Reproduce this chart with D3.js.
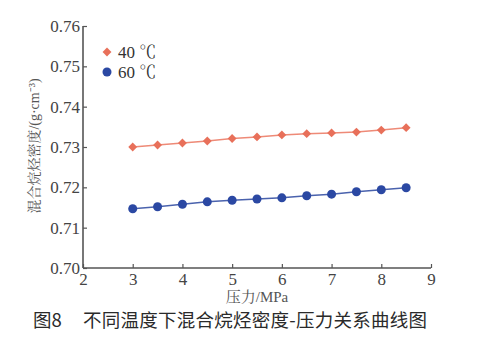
<!DOCTYPE html>
<html><head><meta charset="utf-8">
<script src="https://cdn.jsdelivr.net/npm/d3@7"></script>
<style>body{margin:0;background:#fff}svg{display:block}</style>
</head><body>
<svg id="c" width="484" height="358"></svg>
<script>
const pressure = [3, 3.5, 4, 4.5, 5, 5.5, 6, 6.5, 7, 7.5, 8, 8.5];
const density40 = [0.7300, 0.7305, 0.7310, 0.7315, 0.7321, 0.7325, 0.7330, 0.7333, 0.7335, 0.7337, 0.7342, 0.7348];
const density60 = [0.7147, 0.7152, 0.7158, 0.7164, 0.7168, 0.7171, 0.7174, 0.7179, 0.7183, 0.7189, 0.7194, 0.7199];
const xTicks = [2, 3, 4, 5, 6, 7, 8, 9];
const yTicks = [0.70, 0.71, 0.72, 0.73, 0.74, 0.75, 0.76];
const seriesNames = ["40 ℃", "60 ℃"];
const xLabel = "压力/MPa";
const yLabel = "混合烷烃密度/(g·cm⁻³)";
const captionNo = "图8";
const captionText = "不同温度下混合烷烃密度-压力关系曲线图";

const SERIF = "'Liberation Serif','Noto Serif CJK SC'";
const svg = d3.select("#c");
const L = 83, R = 431, T = 26, B = 268;
const x = d3.scaleLinear().domain([2, 9]).range([L, R]);
const y = d3.scaleLinear().domain([0.70, 0.76]).range([B, T]);
const axisColor = "#555";

const ya = svg.append("g").attr("transform", `translate(${L},0)`)
  .call(d3.axisLeft(y).tickValues(yTicks).tickFormat(d3.format(".2f")).tickSizeInner(-4).tickSizeOuter(0).tickPadding(3));
const xa = svg.append("g").attr("transform", `translate(0,${B})`)
  .call(d3.axisBottom(x).tickValues(xTicks).tickFormat(d3.format("d")).tickSizeInner(-4).tickSizeOuter(0).tickPadding(5));
[ya, xa].forEach(g => {
  g.attr("font-family", SERIF).attr("font-size", 17);
  g.select(".domain").attr("stroke", axisColor).attr("stroke-width", 1.6);
  g.selectAll(".tick line").attr("stroke", axisColor).attr("stroke-width", 1.2);
  g.selectAll("text").attr("fill", "#444").attr("font-family", SERIF);
});
xa.select(".domain").attr("d", `M${L},0H${R}`);
ya.select(".domain").attr("d", `M0,${B}V${T}`);

const c40 = "#e8705a", c60 = "#2b48a3";
const line = d3.line().x((d, i) => x(pressure[i])).y(d => y(d));

svg.append("path").datum(density40).attr("d", line).attr("fill", "none").attr("stroke", "#ee8a77").attr("stroke-width", 1.5);
svg.append("path").datum(density60).attr("d", line).attr("fill", "none").attr("stroke", "#4a62ad").attr("stroke-width", 1.5);

const diamond = d3.symbol().type(d3.symbolDiamond2).size(50);
svg.append("g").selectAll("path").data(density40).join("path")
  .attr("d", diamond)
  .attr("transform", (d, i) => `translate(${x(pressure[i])},${y(d)})`)
  .attr("fill", c40);
svg.append("g").selectAll("circle").data(density60).join("circle")
  .attr("cx", (d, i) => x(pressure[i])).attr("cy", d => y(d)).attr("r", 4.5)
  .attr("fill", c60);

const lg = svg.append("g");
lg.append("path").attr("d", diamond).attr("transform", "translate(107,52)").attr("fill", c40);
lg.append("circle").attr("cx", 107).attr("cy", 72).attr("r", 4.5).attr("fill", c60);
lg.selectAll("text").data(seriesNames).join("text")
  .attr("x", 118).attr("y", (d, i) => 58 + i * 20)
  .attr("fill", "#333").attr("font-family", SERIF).attr("font-size", 17)
  .text(d => d);

svg.append("text").attr("x", 257).attr("y", 302).attr("text-anchor", "middle")
  .attr("fill", "#555").attr("font-family", SERIF).attr("font-size", 15)
  .text(xLabel);
svg.append("text").attr("transform", "translate(39,146) rotate(-90)").attr("text-anchor", "middle")
  .attr("fill", "#555").attr("font-family", SERIF).attr("font-size", 14)
  .text(yLabel);

const cap = svg.append("g").attr("fill", "#2a2a2a").attr("font-family", "'Noto Sans CJK SC',sans-serif").attr("font-size", 18.5);
cap.append("text").attr("x", 33).attr("y", 327).text(captionNo);
cap.append("text").attr("x", 83).attr("y", 327).attr("textLength", 344).attr("lengthAdjust", "spacing").text(captionText);
</script>
</body></html>
